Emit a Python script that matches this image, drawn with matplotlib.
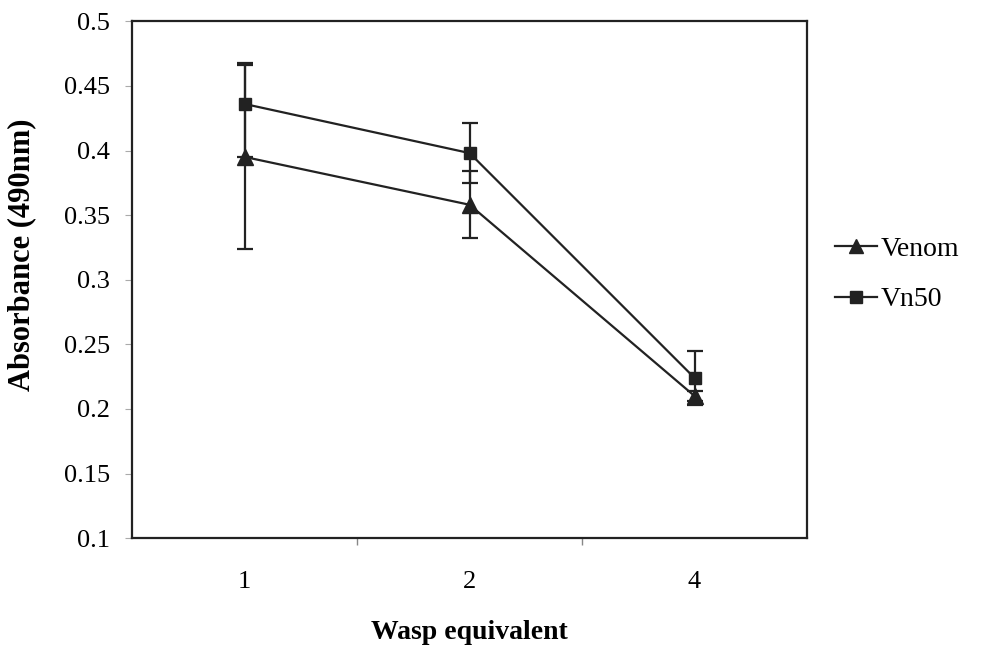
import matplotlib
matplotlib.use("Agg")
import matplotlib.pyplot as plt
from matplotlib.lines import Line2D
from matplotlib.ticker import FixedLocator

# Absorbance at 490 nm versus wasp equivalent
categories = ["1", "2", "4"]
venom = [0.395, 0.358, 0.210]
venom_err = [0.071, 0.026, 0.004]
vn50 = [0.436, 0.398, 0.224]
vn50_err_low = [0.041, 0.023, 0.021]
vn50_err_high = [0.032, 0.023, 0.021]
y_ticks = [0.1, 0.15, 0.2, 0.25, 0.3, 0.35, 0.4, 0.45, 0.5]

plt.rcParams["font.family"] = ["Liberation Serif", "DejaVu Serif"]

fig = plt.figure(figsize=(9.95, 6.46), dpi=100)
ax = fig.add_axes([0.133, 0.167, 0.678, 0.800])

xs = list(range(len(categories)))
ink = "#222222"

ax.errorbar(xs, vn50, yerr=[vn50_err_low, vn50_err_high], color=ink, lw=1.6,
            marker="s", markersize=9, capsize=5.5, capthick=1.6,
            elinewidth=1.6, zorder=3)
ax.errorbar(xs, venom, yerr=venom_err, color=ink, lw=1.6, marker="^",
            markersize=11.5, capsize=5.5, capthick=1.6, elinewidth=1.6,
            zorder=4)

ax.set_xlim(-0.5, len(categories) - 0.5)
ax.set_ylim(0.1, 0.5)
ax.set_xticks(xs)
ax.set_xticklabels(categories)
ax.xaxis.set_minor_locator(FixedLocator([0.5, 1.5]))
ax.set_yticks(y_ticks)
ax.set_yticklabels([f"{t:g}" for t in y_ticks])

ax.tick_params(axis="x", which="major", length=0, pad=24, labelsize=19)
ax.tick_params(axis="x", which="minor", length=5, color="#888888",
               direction="out", width=1)
ax.tick_params(axis="y", length=5, color="#aaaaaa", direction="out",
               pad=11, labelsize=19)

for s in ax.spines.values():
    s.set_color(ink)
    s.set_linewidth(1.6)

ax.set_xlabel("Wasp equivalent", fontsize=20, fontweight="bold", labelpad=19)
ax.set_ylabel("Absorbance (490nm)", fontsize=22, fontweight="bold")
ax.yaxis.set_label_coords(-0.142, 0.548)

handles = [
    Line2D([], [], color=ink, lw=1.6, marker="^", markersize=10),
    Line2D([], [], color=ink, lw=1.6, marker="s", markersize=8),
]
ax.legend(handles, ["Venom", "Vn50"], loc="center left",
          bbox_to_anchor=(1.005, 0.51), frameon=False, fontsize=20,
          handlelength=1.5, handletextpad=0.12, labelspacing=0.9)

fig.savefig("out.png", dpi=100, facecolor="white")
